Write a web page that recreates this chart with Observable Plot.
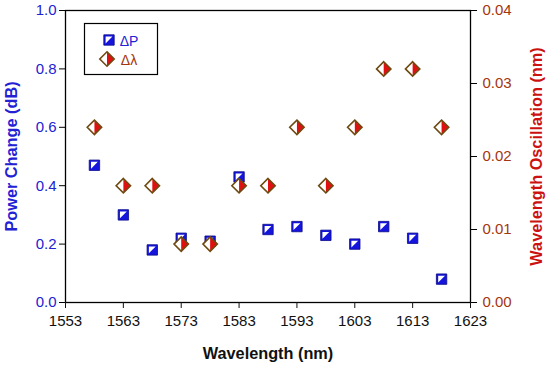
<!DOCTYPE html>
<html>
<head>
<meta charset="utf-8">
<script src="https://cdn.jsdelivr.net/npm/d3@7"></script>
<script src="https://cdn.jsdelivr.net/npm/@observablehq/plot@0.6"></script>
<style>
  html, body { margin: 0; padding: 0; background: #fff; }
  #chart { width: 550px; height: 365px; }
</style>
</head>
<body>
<div id="chart"></div>
<script>
// ---- data ----
const wavelengths = [1558, 1563, 1568, 1573, 1578, 1583, 1588, 1593, 1598, 1603, 1608, 1613, 1618];
const powerChange = [0.47, 0.30, 0.18, 0.22, 0.21, 0.43, 0.25, 0.26, 0.23, 0.20, 0.26, 0.22, 0.08];
const wavelengthOsc = [0.024, 0.016, 0.016, 0.008, 0.008, 0.016, 0.016, 0.024, 0.016, 0.024, 0.032, 0.032, 0.024];
const xTicks = [1553, 1563, 1573, 1583, 1593, 1603, 1613, 1623];
const leftTicks = [0, 0.2, 0.4, 0.6, 0.8, 1.0];
const rightTicks = [0, 0.01, 0.02, 0.03, 0.04];
const rightMax = 0.04; // right axis domain [0, 0.04] mapped onto the left [0, 1]

const rows = wavelengths.map((w, i) => ({w, p: powerChange[i], o: wavelengthOsc[i] / rightMax}));

// ---- custom symbols ----
const rad = size => Math.sqrt(size / Math.PI);
const sqFull = {draw(c, size) { const h = rad(size); c.moveTo(-h, -h); c.lineTo(h, -h); c.lineTo(h, h); c.lineTo(-h, h); c.closePath(); }};
const sqTri = {draw(c, size) { const h = rad(size) - 1.8; c.moveTo(-h, -h); c.lineTo(h, -h); c.lineTo(-h, h); c.closePath(); }};
const dmFull = {draw(c, size) { const r = rad(size); c.moveTo(0, -r); c.lineTo(r, 0); c.lineTo(0, r); c.lineTo(-r, 0); c.closePath(); }};
const dmLeft = {draw(c, size) { const r = rad(size); c.moveTo(0, -r); c.lineTo(-r, 0); c.lineTo(0, r); c.closePath(); }};

const BLUE = "#1414dc", BLUE_DARK = "#0a0a8c", RED = "#e01010", BROWN = "#6e4a10";
const LEFT_TXT = "#2222d4", RIGHT_TXT = "#a3360e", RIGHT_TITLE = "#cc1111";
const SQ_R = 5.2, DM_R = 7.2;
const TITLE_FS = 16.3;

const plot = Plot.plot({
  width: 550, height: 365,
  marginLeft: 65, marginRight: 80, marginTop: 10, marginBottom: 63,
  style: {fontFamily: "Liberation Sans, Arial, sans-serif", background: "#fff", overflow: "visible"},
  x: {domain: [1553, 1623]},
  y: {domain: [0, 1]},
  marks: [
    Plot.frame({stroke: "#000", strokeWidth: 1.3}),
    Plot.axisX({ticks: xTicks, tickFormat: d => String(d), tickSize: 6, tickPadding: 7, fontSize: 15, label: null, color: "#111"}),
    Plot.axisY({anchor: "left", ticks: leftTicks, tickFormat: d => d.toFixed(1), tickSize: 6, tickPadding: 3, fontSize: 15, label: null, color: LEFT_TXT, stroke: "#000"}),
    Plot.axisY({anchor: "right", ticks: rightTicks.map(v => v / rightMax), tickFormat: (d, i) => rightTicks[i].toFixed(2), tickSize: 6, tickPadding: 6, fontSize: 15, label: null, color: RIGHT_TXT, stroke: "#000"}),
    // power change squares
    Plot.dot(rows, {x: "w", y: "p", r: SQ_R, symbol: sqFull, fill: BLUE, stroke: BLUE_DARK, strokeWidth: 0.8}),
    Plot.dot(rows, {x: "w", y: "p", r: SQ_R, symbol: sqTri, fill: "#fff", stroke: "none"}),
    // wavelength oscillation diamonds
    Plot.dot(rows, {x: "w", y: "o", r: DM_R, symbol: dmFull, fill: RED, stroke: "none"}),
    Plot.dot(rows, {x: "w", y: "o", r: DM_R, symbol: dmLeft, fill: "#fff", stroke: "none"}),
    Plot.dot(rows, {x: "w", y: "o", r: DM_R, symbol: dmFull, fill: "none", stroke: BROWN, strokeWidth: 1.6}),
    // axis titles
    Plot.text(["Power Change (dB)"], {frameAnchor: "left", dx: -54, rotate: -90, textAnchor: "middle", lineAnchor: "middle", fontSize: TITLE_FS, fontWeight: "bold", fill: LEFT_TXT}),
    Plot.text(["Wavelength Oscillation (nm)"], {frameAnchor: "right", dx: 66, rotate: -90, textAnchor: "middle", lineAnchor: "middle", fontSize: TITLE_FS, fontWeight: "bold", fill: RIGHT_TITLE}),
    Plot.text(["Wavelength (nm)"], {frameAnchor: "bottom", dy: 51, textAnchor: "middle", lineAnchor: "middle", fontSize: TITLE_FS, fontWeight: "bold", fill: "#111"})
  ]
});
document.getElementById("chart").appendChild(plot);

// ---- legend ----
const svg = d3.select(plot);
const lg = svg.append("g").attr("font-family", "Liberation Sans, Arial, sans-serif");
lg.append("rect").attr("x", 84.5).attr("y", 23.5).attr("width", 73).attr("height", 51)
  .attr("fill", "#fff").attr("stroke", "#000").attr("stroke-width", 1.2);
const sqSize = Math.PI * SQ_R * SQ_R, dmSize = Math.PI * DM_R * DM_R;
const sym = t => d3.symbol().type(t);
const g1 = lg.append("g").attr("transform", "translate(109,40)");
g1.append("path").attr("d", sym(sqFull).size(sqSize)()).attr("fill", BLUE).attr("stroke", BLUE_DARK).attr("stroke-width", 0.8);
g1.append("path").attr("d", sym(sqTri).size(sqSize)()).attr("fill", "#fff");
const g2 = lg.append("g").attr("transform", "translate(107,59)");
g2.append("path").attr("d", sym(dmFull).size(dmSize)()).attr("fill", RED);
g2.append("path").attr("d", sym(dmLeft).size(dmSize)()).attr("fill", "#fff");
g2.append("path").attr("d", sym(dmFull).size(dmSize)()).attr("fill", "none").attr("stroke", BROWN).attr("stroke-width", 1.6);
lg.append("text").attr("x", 129).attr("y", 45.5).attr("font-size", 14).attr("fill", LEFT_TXT).text("ΔP");
lg.append("text").attr("x", 129).attr("y", 64.5).attr("font-size", 14).attr("fill", RIGHT_TXT).text("Δλ");
</script>
</body>
</html>
